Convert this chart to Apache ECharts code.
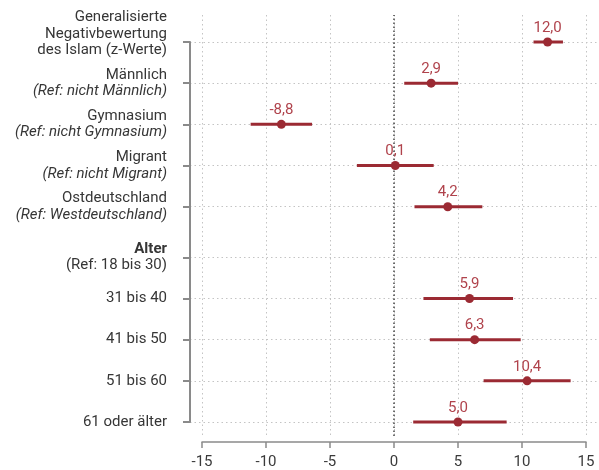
<!DOCTYPE html>
<html>
<head>
<meta charset="utf-8">
<script src="https://cdn.jsdelivr.net/npm/echarts@6/dist/echarts.min.js"></script>
<style>html,body{margin:0;padding:0;background:#fff}#c{width:599px;height:470px}</style>
</head>
<body>
<div id="c"></div>
<script>
// ---- data ----
const categories = ['Generalisierte Negativbewertung des Islam (z-Werte)', 'Männlich', 'Gymnasium', 'Migrant', 'Ostdeutschland', 'Alter', '31 bis 40', '41 bis 50', '51 bis 60', '61 oder älter'];
const refNotes = ['', '(Ref: nicht Männlich)', '(Ref: nicht Gymnasium)', '(Ref: nicht Migrant)', '(Ref: Westdeutschland)', '(Ref: 18 bis 30)', '', '', '', ''];
const estimates = [12.0, 2.9, -8.8, 0.1, 4.2, null, 5.9, 6.3, 10.4, 5.0];
const lower = [10.9, 0.8, -11.2, -2.9, 1.6, null, 2.3, 2.8, 7.0, 1.5];
const upper = [13.2, 5.0, -6.4, 3.1, 6.9, null, 9.3, 9.9, 13.8, 8.8];
const xMin = -15, xMax = 15, xStep = 5;

// ---- layout / style ----
const W = 599, H = 470;
const plotLeft = 202, plotRight = 586;   // pixel of xMin / xMax
const axisX = 190;                       // y-axis line
const pxPerUnit = (plotRight - plotLeft) / (xMax - xMin);
const rowMin = xMin - (plotLeft - axisX) / pxPerUnit;
const rowMax = xMax + (W - plotRight) / pxPerUnit;
const barColor = '#9b2a33';
const lblColor = '#b0434c';
const textColor = '#363636';
const axisColor = '#8a8a8a';
const font = 'Roboto, "Noto Sans", sans-serif';

function richLabel(name) {
  const i = categories.indexOf(name);
  if (i === 0) return '{n|Generalisierte}\n{n|Negativbewertung}\n{n|des Islam (z-Werte)}\n{n| }';
  if (name === 'Alter') return '{b|Alter}\n{n|' + refNotes[i] + '}';
  if (refNotes[i]) return '{n|' + name + '}\n{i|' + refNotes[i] + '}';
  return '{n|' + name + '}';
}
const rich = {
  n: {fontSize: 15, color: textColor, lineHeight: 16.5, fontFamily: font},
  i: {fontSize: 15, color: textColor, lineHeight: 16.5, fontStyle: 'italic', fontFamily: font},
  b: {fontSize: 15, color: textColor, lineHeight: 16.5, fontWeight: 'bold', fontFamily: font}
};
const fmt = v => v.toFixed(1).replace('.', ',');

const groups = [[0, 5], [5, 10]];
const rowGrids = [
  {left: axisX, right: 0, top: 42, bottom: H - 206.7},
  {left: axisX, right: 0, top: 257.3, bottom: H - 422}
];

const grid = [
  {left: plotLeft, right: W - plotRight, top: 15, bottom: 34},   // vertical grid + x axis
  {left: axisX, right: 0, top: 42, bottom: H - 422},              // y axis line
  rowGrids[0], rowGrids[1]
];
const xAxis = [
  {gridIndex: 0, type: 'value', min: xMin, max: xMax, interval: xStep, offset: 6,
   axisLine: {show: true, onZero: false, lineStyle: {color: axisColor, width: 1.5}},
   axisTick: {show: true, length: 6, lineStyle: {color: axisColor, width: 1.5}},
   axisLabel: {color: '#3a3a3a', fontSize: 15, margin: 13, fontFamily: font},
   splitLine: {show: true, lineStyle: {color: '#c4c4c4', type: [1.5, 3], width: 1}}},
  {gridIndex: 1, type: 'value', min: 0, max: 1, show: false},
  {gridIndex: 2, type: 'value', min: rowMin, max: rowMax, show: false},
  {gridIndex: 3, type: 'value', min: rowMin, max: rowMax, show: false}
];
const yAxis = [
  {gridIndex: 0, type: 'value', min: 0, max: 1, show: false},
  {gridIndex: 1, type: 'value', min: 0, max: 1,
   axisLine: {show: true, onZero: false, lineStyle: {color: axisColor, width: 2}},
   axisTick: {show: false}, axisLabel: {show: false}, splitLine: {show: false}}
];
const series = [
  {type: 'scatter', xAxisIndex: 0, yAxisIndex: 0, data: [], silent: true,
   markLine: {symbol: 'none', silent: true, label: {show: false},
     lineStyle: {color: '#444', type: [1.5, 2.5], width: 1.5},
     data: [{xAxis: 0}]}}
];
groups.forEach((g, gi) => {
  const cats = categories.slice(g[0], g[1]);
  yAxis.push({gridIndex: 2 + gi, type: 'category', data: cats, inverse: true, boundaryGap: false,
    axisLine: {show: false, onZero: false},
    axisTick: {show: true, length: 7, interval: 0, lineStyle: {color: axisColor, width: 2}},
    axisLabel: {margin: 23, interval: 0, showMinLabel: true, showMaxLabel: true, hideOverlap: false,
                formatter: richLabel, rich: rich, align: 'right'},
    splitLine: {show: true, interval: 0, lineStyle: {color: '#c4c4c4', type: [1.5, 3], width: 1}}});
  const ci = [], pts = [];
  for (let k = g[0]; k < g[1]; k++) {
    if (estimates[k] == null) continue;
    ci.push([estimates[k], categories[k], lower[k], upper[k]]);
    pts.push([estimates[k], categories[k]]);
  }
  series.push({
    type: 'custom', xAxisIndex: 2 + gi, yAxisIndex: 2 + gi, data: ci, silent: true,
    encode: {x: [0, 2, 3], y: 1},
    renderItem: (params, api) => {
      const y = api.value(1);
      const a = api.coord([api.value(2), y]);
      const b = api.coord([api.value(3), y]);
      return {type: 'line', shape: {x1: a[0], y1: a[1], x2: b[0], y2: b[1]},
              style: {stroke: barColor, lineWidth: 3}};
    }
  });
  series.push({
    type: 'scatter', xAxisIndex: 2 + gi, yAxisIndex: 2 + gi, data: pts, silent: true,
    symbolSize: 9, itemStyle: {color: barColor, opacity: 1}, z: 5,
    label: {show: true, position: 'top', distance: 2, color: lblColor, fontSize: 15, fontFamily: font,
            formatter: p => fmt(p.value[0])}
  });
});

const chart = echarts.init(document.getElementById('c'), null, {renderer: 'canvas'});
chart.setOption({animation: false, backgroundColor: '#fff', grid, xAxis, yAxis, series});
</script>
</body>
</html>
